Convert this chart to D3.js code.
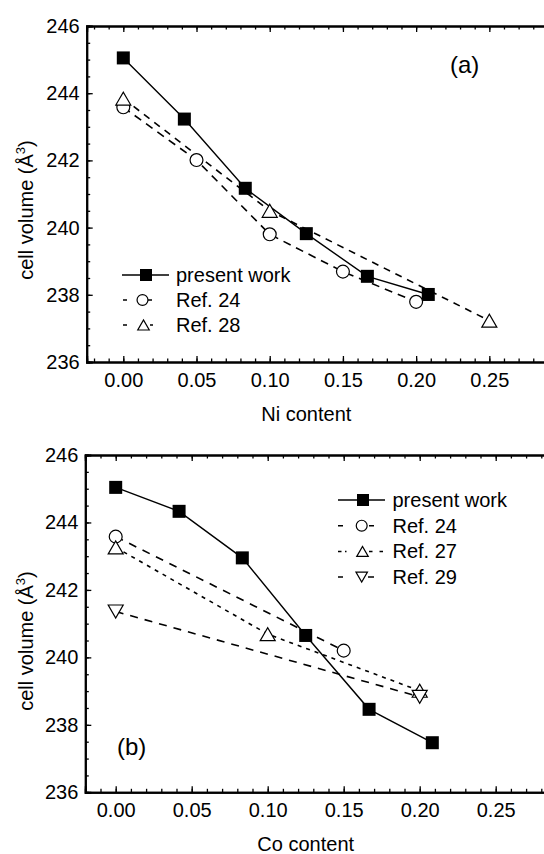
<!DOCTYPE html>
<html><head><meta charset="utf-8">
<script src="https://cdn.jsdelivr.net/npm/d3@7"></script>
<style>
html,body{margin:0;padding:0;background:#fff;}
svg text{font-family:"Liberation Sans",Arial,Helvetica,sans-serif;fill:#000;}
</style></head>
<body>
<script>
// ---------- data ----------
const presentX = [0, 0.0417, 0.0833, 0.125, 0.1667, 0.2083];
const niPresent = [245.05, 243.23, 241.17, 239.82, 238.55, 238.01];
const niRef24X = [0, 0.05, 0.10, 0.15, 0.20];
const niRef24 = [243.58, 242.01, 239.80, 238.69, 237.79];
const niRef28X = [0, 0.10, 0.25];
const niRef28 = [243.84, 240.50, 237.23];

const coPresent = [245.04, 244.33, 242.95, 240.65, 238.46, 237.47];
const coRef24X = [0, 0.15];
const coRef24 = [243.58, 240.20];
const coRef27X = [0, 0.10, 0.20];
const coRef27 = [243.26, 240.69, 239.01];
const coRef29X = [0, 0.20];
const coRef29 = [241.36, 238.83];

const xMajorTicks = [0, 0.05, 0.10, 0.15, 0.20, 0.25];
const yMajorTicks = [236, 238, 240, 242, 244, 246];
const xTitles = ["Ni content", "Co content"];
const panelLabels = ["(a)", "(b)"];

// ---------- drawing ----------
const W = 544, H = 854;
const svg = d3.select("body").append("svg").attr("width", W).attr("height", H);
svg.append("rect").attr("width", W).attr("height", H).attr("fill", "#fff");

function triPath(s, down) {
  const h = s * Math.sqrt(3) / 2, w = s / 2;
  return down ? `M${-w},${-h/2}L${w},${-h/2}L0,${h/2}Z` : `M${-w},${h/2}L${w},${h/2}L0,${-h/2}Z`;
}
function drawMarker(g, type, cx, cy, s) {
  if (type === "square") {
    g.append("rect").attr("x", cx - s/2).attr("y", cy - s/2).attr("width", s).attr("height", s).attr("fill", "#000");
  } else if (type === "circle") {
    g.append("circle").attr("cx", cx).attr("cy", cy).attr("r", s/2 - 0.3).attr("fill", "#fff").attr("stroke", "#000").attr("stroke-width", 1.2);
  } else {
    g.append("path").attr("d", triPath(s, type === "down")).attr("transform", `translate(${cx},${cy})`)
      .attr("fill", "#fff").attr("stroke", "#000").attr("stroke-width", 1.2);
  }
}

function panel(cfg) {
  const x = d3.scaleLinear().domain(cfg.xDomain).range(cfg.xRange);
  const y = d3.scaleLinear().domain([236, 246]).range([cfg.bottom, cfg.top]);
  const g = svg.append("g");
  const minorX = d3.range(-0.02, 0.2905, 0.01).map(v => +v.toFixed(2)).filter(v => v >= cfg.xDomain[0] && v <= cfg.xDomain[1]);
  const minorY = d3.range(236, 246.01, 0.5);

  // series
  cfg.series.forEach(s => {
    const pts = s.x.map((xv, i) => [x(xv), y(s.y[i])]);
    g.append("path").attr("d", d3.line()(pts)).attr("fill", "none").attr("stroke", "#000")
      .attr("stroke-width", s.dash ? 1.6 : 1.4).attr("stroke-dasharray", s.dash || null);
  });
  cfg.series.forEach(s => {
    s.x.forEach((xv, i) => drawMarker(g, s.marker, x(xv), y(s.y[i]), s.marker === "square" ? 13 : (s.marker === "circle" ? 13.5 : 15)));
  });

  // axes
  const axB = g.append("g").attr("transform", `translate(0,${cfg.bottom})`)
    .call(d3.axisBottom(x).tickValues(xMajorTicks).tickSize(-6).tickPadding(11).tickFormat(d3.format(".2f")));
  const axBm = g.append("g").attr("transform", `translate(0,${cfg.bottom})`)
    .call(d3.axisBottom(x).tickValues(minorX).tickSize(-3.5).tickFormat(""));
  const axT = g.append("g").attr("transform", `translate(0,${cfg.top})`)
    .call(d3.axisTop(x).tickValues(xMajorTicks).tickSize(-6).tickFormat(""));
  const axTm = g.append("g").attr("transform", `translate(0,${cfg.top})`)
    .call(d3.axisTop(x).tickValues(minorX).tickSize(-3.5).tickFormat(""));
  const axL = g.append("g").attr("transform", `translate(${cfg.xRange[0]},0)`)
    .call(d3.axisLeft(y).tickValues(yMajorTicks).tickSize(-6).tickPadding(7).tickFormat(d3.format("d")));
  const axLm = g.append("g").attr("transform", `translate(${cfg.xRange[0]},0)`)
    .call(d3.axisLeft(y).tickValues(minorY).tickSize(-3.5).tickFormat(""));
  [axB, axBm, axT, axTm, axL, axLm].forEach(a => {
    a.select(".domain").attr("stroke", "#000").attr("stroke-width", 2);
    a.selectAll(".tick line").attr("stroke", "#000").attr("stroke-width", 1.3);
    a.selectAll("text").attr("font-size", 20).attr("font-family", "Liberation Sans, Arial, sans-serif");
  });

  // axis titles
  g.append("text").attr("x", x(0.125)).attr("y", cfg.bottom + 59).attr("text-anchor", "middle")
    .attr("font-size", 20).text(cfg.xTitle);
  const yl = g.append("text").attr("transform", `translate(33,${cfg.yLabelC}) rotate(-90)`)
    .attr("text-anchor", "middle").attr("font-size", 20);
  yl.append("tspan").text("cell volume (Å");
  yl.append("tspan").attr("font-size", 13).attr("dy", -8).text("3");
  yl.append("tspan").attr("dy", 8).text(")");

  // panel label
  g.append("text").attr("x", cfg.labelPos[0]).attr("y", cfg.labelPos[1]).attr("font-size", 24).text(cfg.label);

  // legend
  cfg.series.forEach((s, i) => {
    const ly = cfg.legend.y0 + i * cfg.legend.dy;
    const L = cfg.legend.lines[i];
    g.append("line").attr("x1", L[0]).attr("x2", L[1]).attr("y1", ly).attr("y2", ly)
      .attr("stroke", "#000").attr("stroke-width", 1.5).attr("stroke-dasharray", L[2] || null);
    drawMarker(g, s.marker, L[3], ly, s.marker === "square" ? 12 : 11.5);
    g.append("text").attr("x", cfg.legend.tx).attr("y", ly + 7).attr("font-size", 20).text(s.name);
  });
}

panel({
  xDomain: [-0.025, 0.29], xRange: [86.7, 547.9], top: 26, bottom: 362,
  xTitle: xTitles[0], yLabelC: 210, label: panelLabels[0], labelPos: [450, 73],
  series: [
    {name: "present work", x: presentX, y: niPresent, marker: "square", dash: null},
    {name: "Ref. 24", x: niRef24X, y: niRef24, marker: "circle", dash: "8,6"},
    {name: "Ref. 28", x: niRef28X, y: niRef28, marker: "up", dash: "7,6"}
  ],
  legend: {y0: 275, dy: 25, tx: 176, lines: [[122, 169, null, 146], [123, 152, "4,21,4", 142.5], [123, 153, "4,23,3", 143.5]]}
});

panel({
  xDomain: [-0.02, 0.3], xRange: [85.3, 571.7], top: 455, bottom: 792.3,
  xTitle: xTitles[1], yLabelC: 641, label: panelLabels[1], labelPos: [117, 755],
  series: [
    {name: "present work", x: presentX, y: coPresent, marker: "square", dash: null},
    {name: "Ref. 24", x: coRef24X, y: coRef24, marker: "circle", dash: "8,7"},
    {name: "Ref. 27", x: coRef27X, y: coRef27, marker: "up", dash: "4,5"},
    {name: "Ref. 29", x: coRef29X, y: coRef29, marker: "down", dash: "8,7"}
  ],
  legend: {y0: 500, dy: 25.7, tx: 392.5, lines: [[338, 385, null, 363], [338, 374, "5,26", 361.7], [338, 385, "3.5,3.5,1.5,22.5,3.5,7,3.5", 362.5], [338, 374, "5,25,6", 361.7]]}
});
</script>
</body></html>
